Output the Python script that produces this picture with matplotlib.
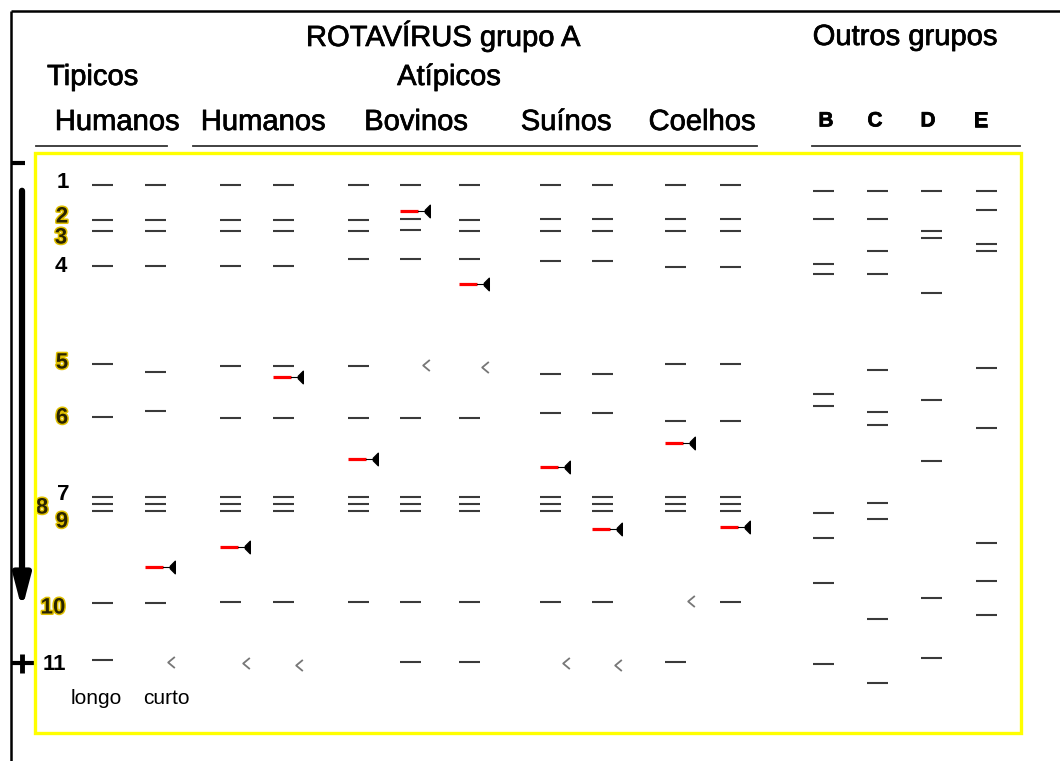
import matplotlib
matplotlib.use("Agg")
import matplotlib.pyplot as plt
import matplotlib.patheffects as pe
from matplotlib.path import Path

plt.rcParams['font.family'] = ['Liberation Sans', 'DejaVu Sans']

# lanes (x centre of each lane on the gel sketch)
lane_names = ['H1', 'H2', 'Ha1', 'Ha2', 'Bo1', 'Bo2', 'Bo3', 'Su1', 'Su2',
              'Co1', 'Co2', 'B', 'C', 'D', 'E']
lane_x = [102, 155, 230, 283, 358, 410, 469, 550, 602, 675, 730,
          823, 877, 931, 986]

# migration position of each black band, per lane
bands = [
    [185, 220, 231, 266, 364, 417, 497, 504, 511, 603, 660],
    [185, 220, 231, 266, 372, 411, 497, 504, 511, 603],
    [185, 220, 231, 266, 366, 418, 497, 504, 511, 602],
    [185, 220, 231, 266, 366, 418, 497, 504, 511, 602],
    [185, 220, 231, 259, 366, 418, 497, 504, 511, 602],
    [185, 219, 230, 259, 418, 497, 504, 511, 602, 662],
    [185, 220, 231, 259, 418, 497, 504, 511, 602, 662],
    [185, 219, 231, 261, 374, 413, 497, 504, 511, 602],
    [185, 219, 231, 261, 374, 413, 497, 504, 511, 602],
    [185, 219, 231, 267, 364, 421, 497, 504, 511, 662],
    [185, 219, 231, 267, 364, 421, 497, 504, 511, 602],
    [191, 219, 264, 274, 394, 406, 513, 538, 583, 664],
    [191, 219, 251, 274, 370, 412, 425, 503, 519, 619, 683],
    [191, 231, 238, 293, 400, 461, 598, 658],
    [191, 210, 244, 251, 368, 428, 543, 581, 615],
]

# shifted segments (red) : lane index, position
red_lane = [5, 6, 3, 4, 9, 7, 2, 1, 8, 10]
red_pos = [211, 284, 377, 459, 443, 467, 547, 567, 529, 527]

# missing segments ("<") : lane index, position
miss_lane = [5, 6, 1, 2, 3, 7, 8, 9]
miss_pos = [365, 367, 662, 663, 665, 663, 665, 601]

# segment numbers
seg_labels = ['1', '2', '3', '4', '5', '6', '7', '8', '9', '10', '11']
seg_x = [63, 62, 61, 61, 62, 62, 63, 42, 62, 53, 54]
seg_y = [182, 217, 238, 267, 363, 418, 495, 508, 522, 608, 664]
seg_gold = [False, True, True, False, True, True, False, True, True, True, False]

# column headers
host_labels = ['Humanos', 'Humanos', 'Bovinos', 'Suínos', 'Coelhos']
host_x = [117, 263, 416, 566, 702]
group_labels = ['B', 'C', 'D', 'E']
group_x = [826, 875, 928, 981]

fig = plt.figure(figsize=(10.6, 7.61), dpi=100)
ax = fig.add_axes([0, 0, 1, 1])
ax.set_xlim(0, 1060)
ax.set_ylim(761, 0)
ax.axis('off')

# outer frame (top + left)
ax.plot([11, 1060], [11, 11], color='black', lw=1.8, solid_capstyle='butt')
ax.plot([11, 11], [11, 761], color='black', lw=1.8, solid_capstyle='butt')

# yellow gel box
ax.add_patch(plt.Rectangle((35, 153), 986, 580, fill=False,
                           edgecolor='#ffff00', lw=2.4, zorder=5))

# headers (slightly heavier strokes like the original)
heavy = [pe.withStroke(linewidth=0.5, foreground='black')]
ax.text(443, 36, 'ROTAVÍRUS grupo A', fontsize=21, ha='center', va='center',
        path_effects=heavy)
ax.text(905, 37, 'Outros grupos', fontsize=21, ha='center', va='center',
        path_effects=heavy)
ax.text(47, 77, 'Tipicos', fontsize=21, ha='left', va='center', path_effects=heavy)
ax.text(449, 77, 'Atípicos', fontsize=21, ha='center', va='center',
        path_effects=heavy)
for name, x in zip(host_labels, host_x):
    ax.text(x, 122, name, fontsize=21, ha='center', va='center', path_effects=heavy)
for name, x in zip(group_labels, group_x):
    ax.text(x, 121, name, fontsize=15, fontweight='bold', ha='center', va='center',
            path_effects=heavy)

# underlines
for x0, x1 in [(36, 167), (193, 757), (812, 1020)]:
    ax.plot([x0, x1], [146, 146], color='#333333', lw=1.3)

# black bands
half = 10.5
for x, ys in zip(lane_x, bands):
    for y in ys:
        ax.plot([x - half, x + half], [y, y], color='#3a3a3a', lw=1.5,
                solid_capstyle='butt')

# red shifted bands with pointer
pointer = Path([(0.45, 1), (-0.35, 0.2), (-0.35, -0.2), (0.45, -1), (0.45, 1)],
               [Path.MOVETO, Path.LINETO, Path.LINETO, Path.LINETO, Path.CLOSEPOLY])
for li, y in zip(red_lane, red_pos):
    x = lane_x[li]
    ax.plot([x - half, x + 8], [y, y], color='#ff0000', lw=2.3,
            solid_capstyle='butt')
    ax.plot([x + 8, x + 14], [y, y], color='black', lw=0.8)
    ax.plot(x + 17, y, marker=pointer, color='black', markersize=9, ls='none')

# missing segment marks
chev = Path([(0.6, 1), (-0.6, 0), (0.6, -1)], [Path.MOVETO, Path.LINETO, Path.LINETO])
for li, y in zip(miss_lane, miss_pos):
    ax.plot(lane_x[li] + 16, y, marker=chev, color='#777777', markersize=8,
            mfc='none', mew=1.3, ls='none')

# segment numbers
for lab, x, y, gold in zip(seg_labels, seg_x, seg_y, seg_gold):
    if gold:
        ax.text(x, y, lab, fontsize=16, fontweight='bold', color='#2a2400',
                ha='center', va='center', zorder=4,
                path_effects=[pe.withStroke(linewidth=2.2, foreground='#e0c000')])
    else:
        ax.text(x, y, lab, fontsize=16, fontweight='bold', color='black',
                ha='center', va='center', zorder=4)

ax.text(96, 698, 'longo', fontsize=15, ha='center', va='center')
ax.text(166, 698, 'curto', fontsize=15, ha='center', va='center')

# migration direction (- to +)
ax.plot([12, 25], [163, 163], color='black', lw=3, solid_capstyle='butt')
ax.annotate('', xy=(22, 612), xytext=(22, 188),
            arrowprops=dict(arrowstyle='-|>,head_length=1.9,head_width=0.5',
                            color='black', lw=4.5))
ax.plot([12, 35], [663, 663], color='black', lw=3, solid_capstyle='butt')
ax.plot([22, 22], [654, 673], color='black', lw=3.5, solid_capstyle='butt')

fig.savefig('out.png', dpi=100)
